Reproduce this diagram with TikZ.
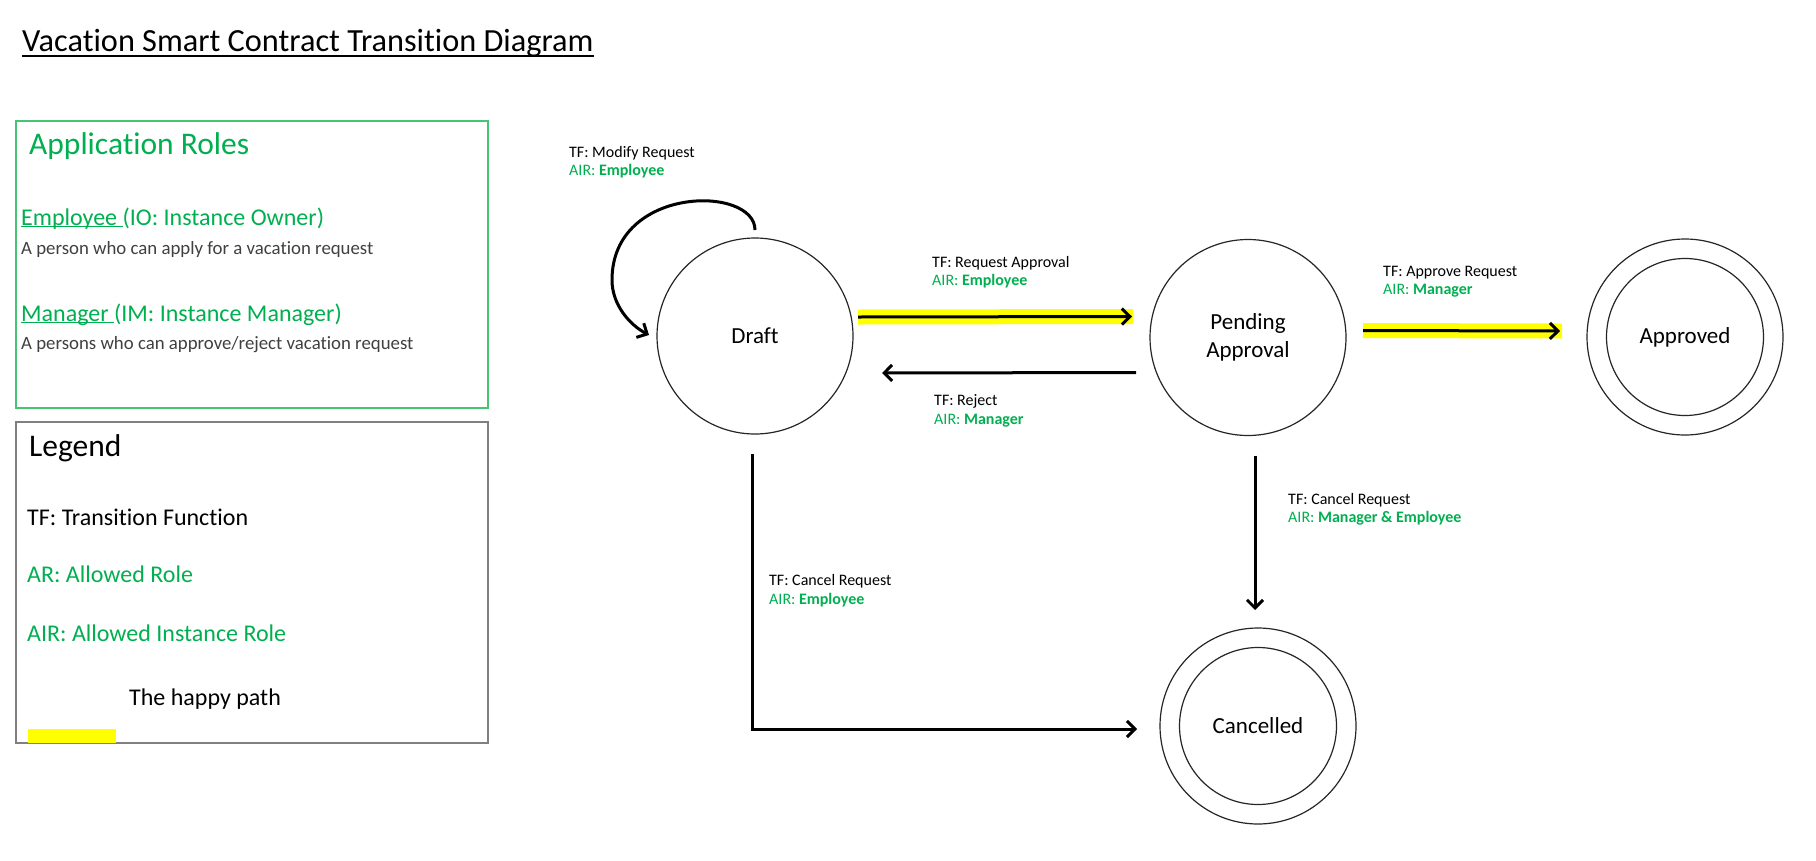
\documentclass[tikz,border=0pt]{standalone}
\usepackage{fontspec}
\setmainfont{Carlito}[Ligatures=NoCommon]
\usetikzlibrary{arrows.meta}
\definecolor{ofgreen}{RGB}{0,176,80}
\definecolor{boxgreen}{RGB}{70,195,115}
\definecolor{desc}{RGB}{64,64,64}
\definecolor{hl}{RGB}{255,255,0}
\newcommand\myul[3]{\setbox0\hbox{#3}\rlap{\rule[-#1]{\wd0}{#2}}\box0}
\begin{document}
\begin{tikzpicture}[x=1pt,y=-1pt,
  state/.style={circle, draw=black!85, line width=1.2pt, minimum size=196pt, inner sep=0pt, outer sep=0pt, font=\fontsize{23}{28}\selectfont, align=center},
  inring/.style={draw=black!85, line width=1.2pt},
  arr/.style={line width=3pt, -{Straight Barb[length=8pt,width=16pt]}},
  hlt/.style={draw=hl, line width=15pt},
  lbl/.style={anchor=base west, inner sep=0pt, font=\fontsize{16}{19}\selectfont},
  txt/.style={anchor=base west, inner sep=0pt},
  frame/.style={anchor=north west, inner sep=0pt, outer sep=0pt}
]
\fill[white] (0,0) rectangle (1816,860);
\useasboundingbox (0,0) rectangle (1816,860);

% title
\node[txt, font=\fontsize{32.3}{40}\selectfont] (title) at (22,51) {\myul{5.5pt}{2pt}{Vacation Smart Contract Transition Diagram}};

% application roles box
\node[frame, draw=boxgreen, line width=1.5pt, minimum width=472pt, minimum height=287pt] (rolesbox) at (16,121) {};
\node[txt, text=ofgreen, font=\fontsize{31.5}{36}\selectfont] (rolestitle) at (29,154) {Application Roles};
\node[txt, text=ofgreen, font=\fontsize{24}{28}\selectfont] (emp) at (21,225) {\myul{1.5pt}{1pt}{Employee }(IO: Instance Owner)};
\node[txt, text=desc, font=\fontsize{18.8}{22}\selectfont] (empdesc) at (21,254) {A person who can apply for a vacation request};
\node[txt, text=ofgreen, font=\fontsize{24}{28}\selectfont] (mgr) at (21,321) {\myul{1.5pt}{1pt}{Manager }(IM: Instance Manager)};
\node[txt, text=desc, font=\fontsize{18.8}{22}\selectfont] (mgrdesc) at (21,349) {A persons who can approve/reject vacation request};

% legend box
\node[frame, draw=black!50, line width=1.6pt, minimum width=472pt, minimum height=321pt] (legendbox) at (16,422) {};
\node[txt, font=\fontsize{31.5}{36}\selectfont] (legendtitle) at (29,456) {Legend};
\node[txt, font=\fontsize{24}{28}\selectfont] (lgtf) at (27,525) {TF: Transition Function};
\node[txt, text=ofgreen, font=\fontsize{24}{28}\selectfont] (lgar) at (27,582) {AR: Allowed Role};
\node[txt, text=ofgreen, font=\fontsize{24}{28}\selectfont] (lgair) at (27,641) {AIR: Allowed Instance Role};
\node[txt, font=\fontsize{24}{28}\selectfont] (lghappy) at (129,705) {The happy path};
\fill[hl] (28,729) rectangle (116,743);

% states
\node[state] (draft) at (755,336) {Draft};
\node[state, yshift=-2.5pt] (pending) at (1248,335) {Pending\\Approval};
\node[state] (approved) at (1685,337) {Approved};
\draw[inring] (approved.center) circle[radius=78.5];
\node[state] (cancelled) at (1258,726) {Cancelled};
\draw[inring] (cancelled.center) circle[radius=78.5];

% highlights (happy path)
\draw[hlt] ([shift={(5,-19)}]draft.east) -- ([shift={(-17,-21)}]pending.west);
\draw[hlt] ([shift={(17,-7)}]pending.east) -- ([shift={(-25,-6)}]approved.west);

% transitions
\draw[arr] ([shift={(0,-8)}]draft.north) .. controls (755,185) and (612,185) .. (612,280)
  .. controls (612,305) and (630,325) .. ([shift={(-8,-1)}]draft.west);
\draw[arr] ([shift={(5,-19)}]draft.east) -- ([shift={(-18,-21)}]pending.west);
\draw[arr] ([shift={(-14,35)}]pending.west) -- ([shift={(29,37)}]draft.east);
\draw[arr] ([shift={(17,-7)}]pending.east) -- ([shift={(-27,-6)}]approved.west);
\draw[arr] ([shift={(-3,20)}]draft.south) |- ([shift={(-23,3)}]cancelled.west);
\draw[arr] ([shift={(7,20)}]pending.south) -- ([shift={(-3,-18)}]cancelled.north);

% labels
\node[lbl] (mrTF) at (569,157) {TF: Modify Request};
\node[lbl, text=ofgreen] (mrAIR) at (569,175) {AIR: \textbf{Employee}};
\node[lbl] (raTF) at (932,267) {TF: Request Approval};
\node[lbl, text=ofgreen] (raAIR) at (932,285) {AIR: \textbf{Employee}};
\node[lbl] (rjTF) at (934,405) {TF: Reject};
\node[lbl, text=ofgreen] (rjAIR) at (934,424) {AIR: \textbf{Manager}};
\node[lbl] (apTF) at (1383,276) {TF: Approve Request};
\node[lbl, text=ofgreen] (apAIR) at (1383,294) {AIR: \textbf{Manager}};
\node[lbl] (cdTF) at (769,585) {TF: Cancel Request};
\node[lbl, text=ofgreen] (cdAIR) at (769,604) {AIR: \textbf{Employee}};
\node[lbl] (cpTF) at (1288,504) {TF: Cancel Request};
\node[lbl, text=ofgreen] (cpAIR) at (1288,522) {AIR: \textbf{Manager \& Employee}};
\end{tikzpicture}
\end{document}
